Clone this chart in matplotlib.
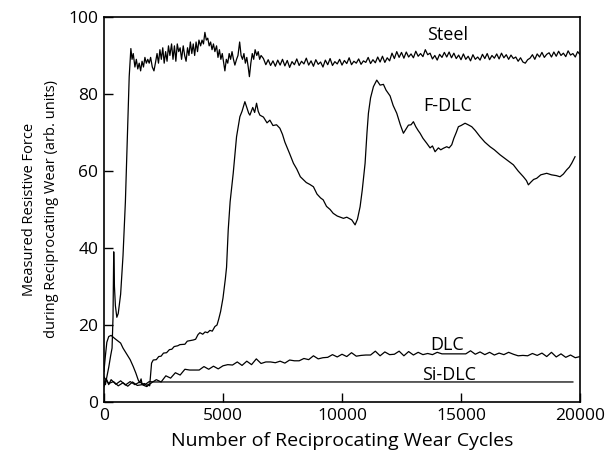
import matplotlib
matplotlib.use("Agg")
import matplotlib.pyplot as plt
import numpy as np

# Steel: fast run-in, then a noisy plateau near 90
STEEL_EARLY_CYCLES = [
    0, 60, 120, 200, 280, 340, 380, 410, 440, 480, 540, 600, 700, 800, 900, 980,
    1060, 1130, 1180, 1230, 1300, 1360, 1420, 1480, 1540, 1600, 1660, 1720, 1780,
    1840, 1900, 1960, 2030, 2100, 2160, 2230, 2290, 2350, 2410, 2470, 2530, 2590,
    2650, 2710, 2770, 2840, 2900, 2960, 3020, 3080, 3140, 3200, 3260, 3330, 3390,
    3450, 3510, 3570, 3630, 3690, 3750, 3810, 3870, 3930, 3990, 4060, 4120, 4180,
    4240, 4300, 4360, 4420, 4480, 4540, 4600, 4660, 4730, 4790, 4850, 4910, 4970,
    5030, 5080, 5140, 5200, 5260, 5320, 5380, 5440, 5500, 5570, 5630, 5700, 5760,
    5820, 5880, 5940, 6000, 6060, 6110, 6170, 6230, 6290, 6350, 6420, 6480, 6540,
    6600,
]
STEEL_EARLY = [
    5.5, 4.5, 6.5, 9, 12, 14, 22, 39, 30, 25, 22, 23, 28, 38, 52, 68,
    84.5, 91.8, 89, 90.5, 87, 89, 86.5, 88, 86, 88.5, 87, 89.5, 88,
    89, 88, 89.5, 87, 86, 88, 90.5, 88, 91.5, 89, 92, 88, 91,
    88.5, 92.5, 90, 93, 89, 92.5, 88.5, 93, 91, 92, 89, 92.5, 90,
    88.5, 92, 90, 93.5, 90.5, 93, 90, 93.5, 91, 94, 92.5, 94, 93,
    96, 94, 94.5, 92.5, 93.5, 91.5, 93, 91, 92.5, 89.5, 91.5, 89, 90.5,
    88, 86, 89, 88, 90.5, 89, 91, 89, 87.5, 89, 90, 93.5, 90,
    89, 90.5, 88, 89.5, 87, 84.5, 88, 90.5, 89, 91.5, 90, 91, 89,
    90,
]
STEEL_LATE_CYCLES = list(range(6700, 20001, 100))
STEEL_LATE = [
    89.2, 87.6, 88.9, 87.4, 88.6, 87.2, 88.8, 87.5, 89.0, 87.3,
    88.7, 86.9, 88.4, 87.6, 89.1, 87.4, 88.5, 87.8, 89.3, 87.5,
    88.6, 87.2, 88.9, 87.7, 88.3, 87.0, 88.8, 87.6, 89.2, 87.4,
    88.4, 87.8, 89.0, 87.5, 88.7, 87.9, 89.4, 87.6, 88.5, 88.0,
    89.1, 87.7, 88.6, 88.2, 89.5, 87.9, 88.9, 88.1, 89.6, 88.3,
    89.8, 88.2, 89.4, 88.6, 90.6, 89.2, 91.0, 89.5, 90.8, 89.3,
    90.9, 89.6, 90.4, 89.4, 91.1, 89.8, 90.5, 89.7, 91.5, 90.2,
    90.6, 89.1, 90.0, 88.8, 90.3, 89.5, 90.8, 89.6, 90.9, 89.4,
    90.6, 89.2, 90.1, 88.9, 90.4, 89.0, 89.8, 88.6, 90.2, 89.0,
    89.6, 88.8, 90.3, 89.2, 90.5, 88.9, 90.0, 89.3, 90.4, 89.1,
    90.6, 89.4, 90.2, 89.0, 90.1, 89.2, 89.6, 88.5, 89.4, 88.3,
    88.0, 88.9, 89.3, 90.2, 89.0, 90.4, 89.6, 90.8, 89.5, 90.3,
    90.7, 89.6, 90.9, 89.8, 91.1, 90.0, 90.6, 89.7, 91.2, 90.1,
    90.5, 89.6, 91.0, 90.2,
]

# F-DLC
FDLC_CYCLES = [
    0, 60, 120, 200, 300, 450, 600, 700, 800, 900, 1000, 1100, 1230, 1340, 1440,
    1500, 1560, 1600, 1700, 1800, 1870, 1920, 1960, 2000, 2070, 2200, 2300, 2400,
    2500, 2630, 2750, 2850, 2950, 3100, 3190, 3400, 3500, 3750, 3850, 3950, 4030,
    4150, 4250, 4350, 4450, 4550, 4660, 4750, 4820, 4900, 5000, 5100, 5150, 5220,
    5300, 5430, 5570, 5710, 5800, 5920, 6000, 6080, 6130, 6250, 6330, 6410, 6480,
    6550, 6700, 6850, 6970, 7100, 7250, 7390, 7500, 7600, 7680, 7800, 7960, 8100,
    8250, 8380, 8500, 8650, 8800, 8950, 9100, 9210, 9350, 9500, 9630, 9800, 10060,
    10200, 10410, 10550, 10650, 10760, 10850, 10970, 11050, 11110, 11200, 11320,
    11460, 11600, 11740, 11850, 12020, 12150, 12300, 12450, 12580, 12700, 12790,
    12900, 13000, 13100, 13200, 13280, 13400, 13560, 13700, 13800, 13910, 14050,
    14150, 14260, 14400, 14500, 14610, 14700, 14800, 14890, 15000, 15170, 15300,
    15450, 15600, 15800, 16000, 16220, 16400, 16640, 16900, 17200, 17400, 17620,
    17750, 17830, 17950, 18050, 18180, 18350, 18600, 18800, 19000, 19160, 19300,
    19440, 19550, 19650, 19790,
]
FDLC = [
    8, 12, 15.5, 17, 17.3, 16.5, 15.8, 15.3, 14, 13, 12, 11, 9.2, 7.5, 5.7,
    5.0, 6.0, 4.6, 4.8, 4.3, 4.6, 4.2, 7.0, 10.1, 10.9, 11.0, 11.8, 11.9,
    12.7, 12.8, 13.6, 13.7, 14.4, 14.6, 14.9, 15.0, 15.8, 16.1, 16.3, 17.5, 18.0,
    17.6, 18.2, 18.0, 18.6, 18.4, 19.6, 20.0, 21.5, 23.5, 27, 32, 35, 44.7,
    52, 59.4, 68.9, 74.1, 75.5, 78, 76.5, 75, 74.5, 76.5, 75.2, 77.6, 75.5,
    74.5, 74, 72.5, 73.2, 71.8, 72, 71.1, 69.5, 67.5, 66.3, 64.5, 62, 60.5,
    58.5, 57.7, 57, 56.5, 55.9, 54, 53, 52.5, 50.8, 50, 49, 48.3, 47.7,
    48, 47.3, 46, 47.5, 50.7, 55, 62, 70, 75, 79, 81.9,
    83.6, 82.3, 82.5, 81, 79.5, 77, 75, 72, 69.8, 71, 71.9,
    72, 72.8, 71.5, 70.5, 69.8, 68.5, 67.2, 66, 66.5, 65, 66,
    65.5, 65.9, 66.3, 66, 66.8, 68.5, 70, 71.5, 71.8, 72.4, 72,
    71.5, 70.5, 68.9, 67.5, 66.3, 65.5, 64.2, 63, 61.6, 60, 58.5,
    57.5, 56.4, 57.2, 57.8, 58.1, 59, 59.4, 59, 58.8, 58.5, 59.2,
    60.3, 61, 62, 63.7,
]

# DLC, sampled every 200 cycles
DLC_CYCLES = list(range(0, 20001, 200))
DLC = [
    6.5, 4.8, 5.3, 4.2, 5.0, 4.1, 5.2, 4.3, 4.5, 4.0,
    5.0, 5.8, 5.2, 6.8, 6.2, 7.6, 7.0, 8.5, 8.3, 8.3,
    8.3, 9.2, 8.5, 9.3, 8.6, 9.4, 9.7, 9.6, 10.4, 9.5,
    10.6, 9.7, 11.2, 10.0, 10.4, 10.4, 10.2, 10.6, 10.1, 10.9,
    10.7, 10.7, 11.3, 11.0, 12.0, 11.2, 11.5, 11.6, 12.3, 11.7,
    12.4, 11.8, 12.8, 11.9, 12.1, 12.2, 12.2, 13.2, 12.0, 13.0,
    12.3, 12.4, 13.2, 12.0, 13.1, 12.2, 12.9, 12.3, 12.6, 12.3,
    12.9, 12.5, 12.5, 12.5, 12.5, 12.5, 12.5, 13.3, 12.4, 13.0,
    12.3, 12.9, 12.2, 12.7, 12.3, 12.9, 12.4, 12.0, 12.1, 12.0,
    12.6, 12.1, 12.7, 11.8, 12.9, 11.7, 12.5, 11.6, 12.2, 11.5,
    11.8,
]

# Si-DLC
SIDLC_CYCLES = [0, 100, 200, 300, 500, 700, 900, 1100, 1300, 1500, 1700, 1900, 2100, 19700]
SIDLC = [4.0, 6.0, 4.5, 5.8, 4.6, 5.5, 4.4, 5.3, 4.5, 5.2, 4.4, 5.3, 5.2, 5.2]

LABELS = [("Steel", 14450, 95.3), ("F-DLC", 14430, 77.0), ("DLC", 14400, 14.8), ("Si-DLC", 14500, 6.9)]

plt.rcParams["font.family"] = ["Open Sans", "DejaVu Sans"]

fig = plt.figure(figsize=(6.08, 4.65), dpi=100)
ax = fig.add_axes([0.171, 0.1355, 0.783, 0.828])

lw = 0.9
ax.plot(STEEL_EARLY_CYCLES + STEEL_LATE_CYCLES, STEEL_EARLY + STEEL_LATE, color="black", lw=lw)
ax.plot(FDLC_CYCLES, FDLC, color="black", lw=lw)
ax.plot(DLC_CYCLES, DLC, color="black", lw=lw)
ax.plot(SIDLC_CYCLES, SIDLC, color="black", lw=lw)

for txt, x, y in LABELS:
    ax.text(x, y, txt, ha="center", va="center", fontsize=13)

ax.set_xlim(0, 20000)
ax.set_ylim(0, 100)
ax.set_xticks([0, 5000, 10000, 15000, 20000])
ax.set_yticks([0, 20, 40, 60, 80, 100])
ax.tick_params(direction="in", length=6.5, width=1.0, labelsize=12.5, pad=4)
for s in ax.spines.values():
    s.set_linewidth(1.2)

ax.set_xlabel("Number of Reciprocating Wear Cycles", fontsize=14, labelpad=6)
ax.set_ylabel("Measured Resistive Force\nduring Reciprocating Wear (arb. units)",
              fontsize=10.5, linespacing=1.6, labelpad=7)

fig.savefig("out.png", dpi=100)
